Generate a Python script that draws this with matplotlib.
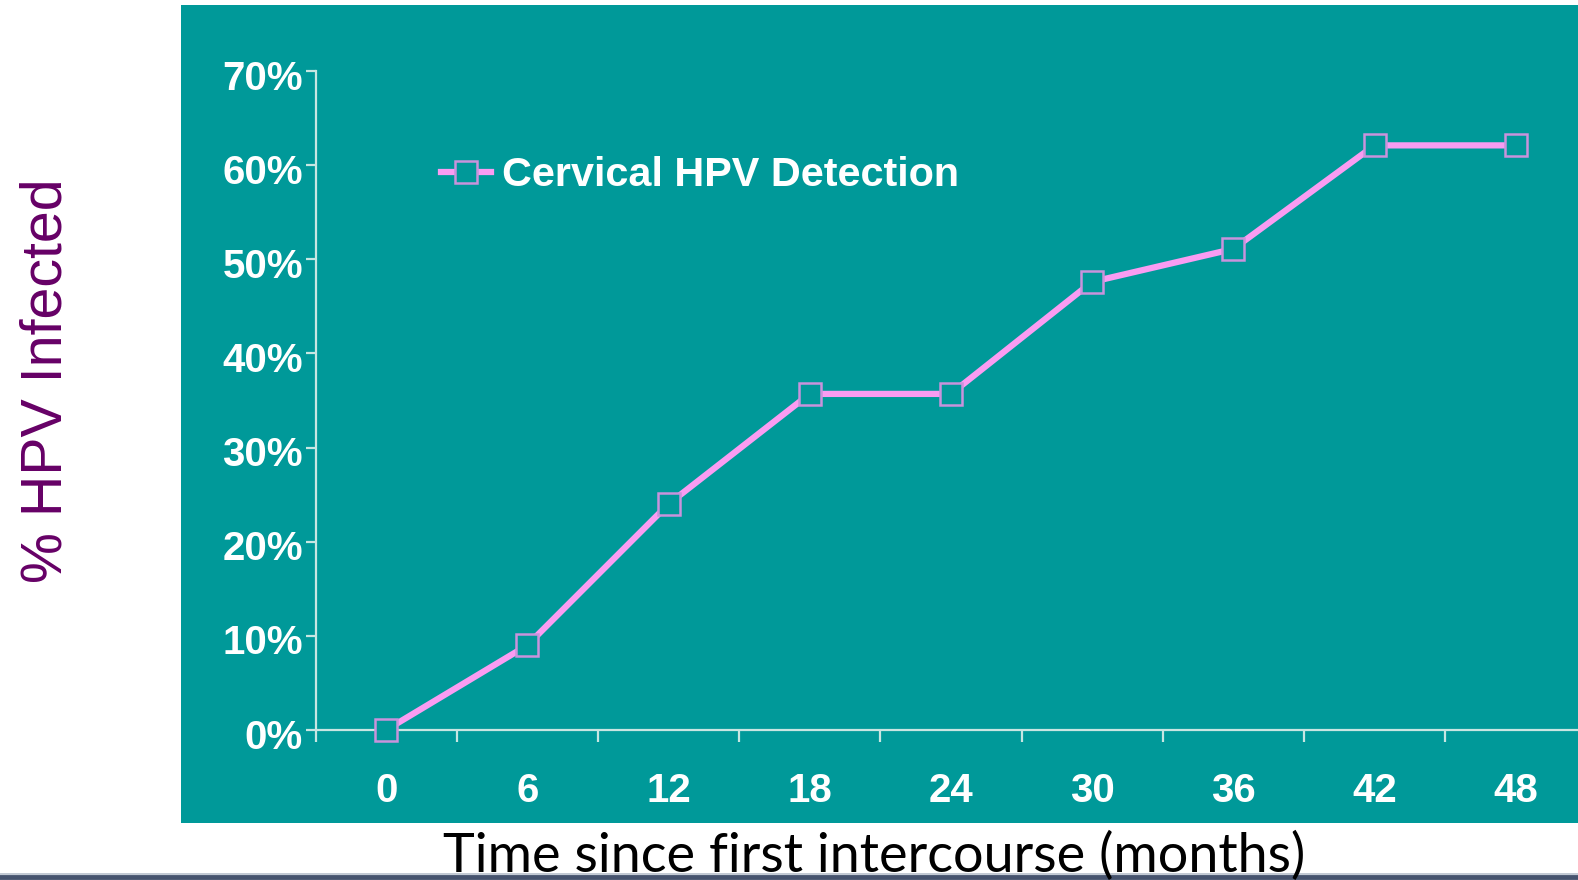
import matplotlib
matplotlib.use("Agg")
import matplotlib.pyplot as plt
from matplotlib.patches import Rectangle
from matplotlib.lines import Line2D
from matplotlib.transforms import ScaledTranslation

# Data
months = ["0", "6", "12", "18", "24", "30", "36", "42", "48"]
hpv_pct = [0, 9, 24, 35.7, 35.7, 47.6, 51.1, 62.1, 62.1]
y_ticks = [0, 10, 20, 30, 40, 50, 60, 70]
y_tick_labels = ["0%", "10%", "20%", "30%", "40%", "50%", "60%", "70%"]
series_name = "Cervical HPV Detection"

W, H = 1578, 880
fig = plt.figure(figsize=(W / 100, H / 100), dpi=100)
fig.patch.set_facecolor("white")

teal = "#009999"
axis_col = "#c8e6e2"
line_col = "#fa9cf2"
marker_edge = "#c993dc"

# Teal panel behind the plot
fig.patches.append(Rectangle((181 / W, 1 - 823 / H), 1 - 181 / W, (823 - 5) / H,
                             transform=fig.transFigure, facecolor=teal,
                             edgecolor="none", zorder=-10))

# Rule along the bottom edge
fig.add_artist(Line2D([0, 1], [1 - 873.5 / H] * 2, transform=fig.transFigure,
                      color="#b8c0cc", lw=1.2))
fig.add_artist(Line2D([0, 1], [1 - 877 / H] * 2, transform=fig.transFigure,
                      color="#46536e", lw=3.5))

left = 315.5 / W
width = (141.2 * 9) / W
bottom = 1 - 730 / H
height = (730 - 71) / H
ax = fig.add_axes([left, bottom, width, height])
ax.patch.set_visible(False)
ax.set_zorder(5)

x = list(range(len(months)))
ax.plot(x, hpv_pct, color=line_col, lw=4.5, marker="s", markersize=16,
        markerfacecolor=teal, markeredgecolor=marker_edge, markeredgewidth=1.8,
        label=series_name, zorder=3, clip_on=False)

ax.set_xlim(-0.5, len(months) - 0.5)
ax.set_ylim(0, 70)

for s in ["top", "right"]:
    ax.spines[s].set_visible(False)
for s in ["left", "bottom"]:
    ax.spines[s].set_color(axis_col)
    ax.spines[s].set_linewidth(1.6)

tick_font = dict(family="Liberation Sans", weight="bold", size=29)

ax.set_yticks(y_ticks)
ax.set_yticklabels(y_tick_labels, color="white", **tick_font)
ax.tick_params(axis="y", direction="out", length=7.5, width=1.6, color=axis_col, pad=1.5)
shift = ScaledTranslation(0, -3.5 / 100, fig.dpi_scale_trans)
for lbl in ax.get_yticklabels():
    lbl.set_transform(lbl.get_transform() + shift)

ax.set_xticks(x)
ax.set_xticklabels(months, color="white", **tick_font)
ax.tick_params(axis="x", which="major", length=0, pad=30)
ax.set_xticks([i - 0.5 for i in range(len(months) + 1)], minor=True)
ax.tick_params(axis="x", which="minor", direction="out", length=8.5, width=1.6, color=axis_col)

leg = ax.legend(loc="center left", bbox_to_anchor=(441 / W, 1 - 175 / H),
                bbox_transform=fig.transFigure, frameon=False, borderpad=0,
                borderaxespad=0, handlelength=1.22, handletextpad=0.26,
                numpoints=1, prop=dict(family="Liberation Sans", weight="bold", size=29.8))
for t in leg.get_texts():
    t.set_color("white")

fig.text(47 / W, 1 - 381 / H, "% HPV Infected", rotation=90, ha="center", va="center",
         color="#660066", family="Liberation Sans", fontsize=41.3)

fig.text(874 / W, 1 - 872 / H, "Time since first intercourse (months)", ha="center",
         va="baseline", color="black", family="Lato", fontsize=38.9)

fig.savefig("out.png", dpi=100, facecolor="white")
